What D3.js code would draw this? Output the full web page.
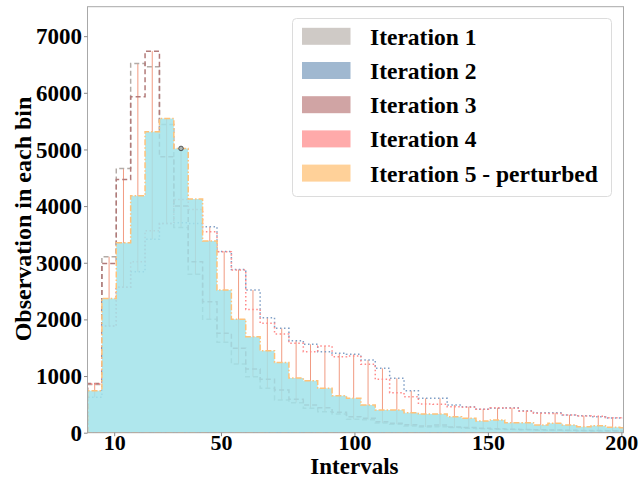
<!DOCTYPE html>
<html>
<head>
<meta charset="utf-8">
<script src="https://cdn.jsdelivr.net/npm/d3@7"></script>
<style>
  html, body { margin: 0; padding: 0; background: #fff; }
  text { font-family: "Liberation Serif", "Times New Roman", serif; font-weight: bold; fill: #000; }
</style>
</head>
<body>
<div id="chart"></div>
<script>
// bin width (in interval units) and counts per iteration
const binWidth = 5.39;

const iter1 = [850, 3106, 4665, 6518, 6459, 5442, 3624, 2795, 2001, 1595, 1212, 988, 783, 577, 530, 430, 371, 330, 236, 230, 170, 150, 118, 100, 106, 90, 80, 70, 60, 55, 50, 45, 42, 40, 35, 32, 30, 28];
const iter2 = [625, 1883, 2566, 2841, 3413, 3695, 3706, 3695, 3635, 3200, 2880, 2518, 2030, 1842, 1624, 1560, 1430, 1401, 1383, 1283, 1136, 960, 741, 607, 607, 489, 459, 413, 430, 441, 388, 350, 353, 312, 300, 283, 260, 260];
const iter3 = [870, 2989, 4471, 5929, 6735, 4870, 4000, 3018, 2312, 1754, 1489, 1124, 942, 753, 589, 489, 441, 360, 283, 254, 194, 166, 140, 118, 136, 100, 90, 80, 70, 62, 55, 50, 48, 45, 40, 38, 35, 32];
const iter4 = [860, 1883, 2566, 3018, 3565, 3695, 4118, 3942, 3547, 3194, 2871, 2177, 1930, 1742, 1577, 1430, 1530, 1341, 1353, 1207, 942, 706, 635, 506, 501, 459, 450, 413, 441, 430, 380, 342, 340, 312, 295, 290, 265, 265];
const iter5 = [741, 2371, 3353, 4182, 5312, 5548, 5018, 4124, 3383, 2518, 2001, 1694, 1447, 1240, 965, 918, 783, 653, 607, 489, 400, 400, 353, 330, 330, 283, 254, 206, 224, 177, 177, 136, 166, 136, 106, 124, 95, 89];

const legendLabels = ["Iteration 1", "Iteration 2", "Iteration 3", "Iteration 4", "Iteration 5 - perturbed"];
const legendColors = ["#cfcac6", "#a0b8d0", "#d0a4a4", "#ffaaaa", "#ffd199"];
const xTicks = [10, 50, 100, 150, 200];
const yTicks = [0, 1000, 2000, 3000, 4000, 5000, 6000, 7000];

const width = 644, height = 479;
const margin = { top: 6.7, right: 20.5, bottom: 46.3, left: 87.5 };

const svg = d3.select("#chart")
    .append("svg")
    .attr("width", width)
    .attr("height", height);

const x = d3.scaleLinear()
    .domain([0, 200.8])
    .range([margin.left, width - margin.right]);

const y = d3.scaleLinear()
    .domain([0, 7520])
    .range([height - margin.bottom, margin.top]);

svg.append("clipPath").attr("id", "plot-clip")
    .append("rect")
    .attr("x", margin.left)
    .attr("y", margin.top)
    .attr("width", width - margin.left - margin.right)
    .attr("height", height - margin.top - margin.bottom);

const plot = svg.append("g").attr("clip-path", "url(#plot-clip)");

// turn a list of counts into step points (left edges + closing right edge)
function stepPoints(vals) {
    const pts = vals.map((v, i) => [i * binWidth, v]);
    pts.push([vals.length * binWidth, vals[vals.length - 1]]);
    return pts;
}

const stepLine = d3.line()
    .x((d) => x(d[0]))
    .y((d) => y(d[1]))
    .curve(d3.curveStepAfter);

function outline(vals) {
    const pts = stepPoints(vals);
    return stepLine([[0, 0], ...pts, [vals.length * binWidth, 0]]) + "Z";
}

// range lines at bin centres
const all = [iter1, iter2, iter3, iter4, iter5];
plot.append("g")
    .selectAll("line")
    .data(iter5.map((_, i) => i))
    .join("line")
    .attr("x1", (i) => x((i + 0.5) * binWidth))
    .attr("x2", (i) => x((i + 0.5) * binWidth))
    .attr("y1", (i) => y(d3.min(all, (s) => s[i])))
    .attr("y2", (i) => y(d3.max(all, (s) => s[i])))
    .attr("stroke", "#ec7a58")
    .attr("stroke-opacity", 0.75)
    .attr("stroke-width", 1);

const steps = [
    { vals: iter1, color: "#b3aba6", dash: "5,3" },
    { vals: iter3, color: "#b27a79", dash: "5,3" },
    { vals: iter2, color: "#809fc6", dash: "1.5,2.5" },
    { vals: iter4, color: "#ff8a8a", dash: "1.5,2.5" }
];

plot.selectAll("path.step")
    .data(steps)
    .join("path")
    .attr("class", "step")
    .attr("d", (d) => outline(d.vals))
    .attr("fill", "none")
    .attr("stroke", (d) => d.color)
    .attr("stroke-width", 1.5)
    .attr("stroke-dasharray", (d) => d.dash);

// final iteration, filled
const area = d3.area()
    .x((d) => x(d[0]))
    .y0(y(0))
    .y1((d) => y(d[1]))
    .curve(d3.curveStepAfter);

plot.append("path")
    .attr("d", area(stepPoints(iter5)))
    .attr("fill", "#a1e3ea")
    .attr("fill-opacity", 0.85);

plot.append("path")
    .attr("d", outline(iter5))
    .attr("fill", "none")
    .attr("stroke", "#ffc27a")
    .attr("stroke-width", 1.5)
    .attr("stroke-dasharray", "6,2,1.5,2");

plot.append("circle")
    .attr("cx", x(6.5 * binWidth))
    .attr("cy", y(iter5[6]))
    .attr("r", 2.3)
    .attr("fill", "#a9b4b4")
    .attr("stroke", "#333")
    .attr("stroke-width", 0.8);

// frame
svg.append("rect")
    .attr("x", margin.left)
    .attr("y", margin.top)
    .attr("width", width - margin.left - margin.right)
    .attr("height", height - margin.top - margin.bottom)
    .attr("fill", "none")
    .attr("stroke", "#a8a8a8")
    .attr("stroke-width", 1);

const yAxis = d3.axisLeft(y).tickValues(yTicks).tickFormat(d3.format("d")).tickSize(3.5).tickPadding(2);
const gy = svg.append("g")
    .attr("transform", `translate(${margin.left},0)`)
    .call(yAxis);
gy.select(".domain").remove();
gy.selectAll(".tick line").attr("stroke", "#888");
gy.selectAll(".tick text")
    .attr("font-size", "23px")
    .attr("font-family", "Liberation Serif, serif")
    .attr("font-weight", "bold")
    .attr("fill", "#000")
    .attr("dy", "0.33em");

const xAxis = d3.axisBottom(x).tickValues(xTicks).tickFormat(d3.format("d")).tickSize(3.5).tickPadding(1);
const gx = svg.append("g")
    .attr("transform", `translate(0,${height - margin.bottom})`)
    .call(xAxis);
gx.select(".domain").remove();
gx.selectAll(".tick line").attr("stroke", "#888");
gx.selectAll(".tick text")
    .attr("font-size", "22px")
    .attr("font-family", "Liberation Serif, serif")
    .attr("font-weight", "bold")
    .attr("fill", "#000")
    .attr("dy", "0.57em");

svg.append("text")
    .attr("x", x(100))
    .attr("y", 473.8)
    .attr("text-anchor", "middle")
    .attr("font-size", "23px")
    .text("Intervals");

svg.append("text")
    .attr("transform", "rotate(-90)")
    .attr("x", -219)
    .attr("y", 31)
    .attr("text-anchor", "middle")
    .attr("font-size", "24px")
    .text("Observation in each bin");

// legend
const legend = svg.append("g");
legend.append("rect")
    .attr("x", 292.5)
    .attr("y", 18.5)
    .attr("width", 319)
    .attr("height", 178)
    .attr("rx", 4)
    .attr("fill", "#fff")
    .attr("fill-opacity", 0.85)
    .attr("stroke", "#dcdcdc");

const items = legend.selectAll("g.item")
    .data(legendLabels)
    .join("g")
    .attr("class", "item")
    .attr("transform", (d, i) => `translate(0,${36.3 + i * 34.2})`);

items.append("rect")
    .attr("x", 302)
    .attr("y", -8.5)
    .attr("width", 48.5)
    .attr("height", 17)
    .attr("fill", (d, i) => legendColors[i]);

items.append("text")
    .attr("x", 370)
    .attr("y", 8.5)
    .attr("font-size", "23.5px")
    .text((d) => d);
</script>
</body>
</html>
